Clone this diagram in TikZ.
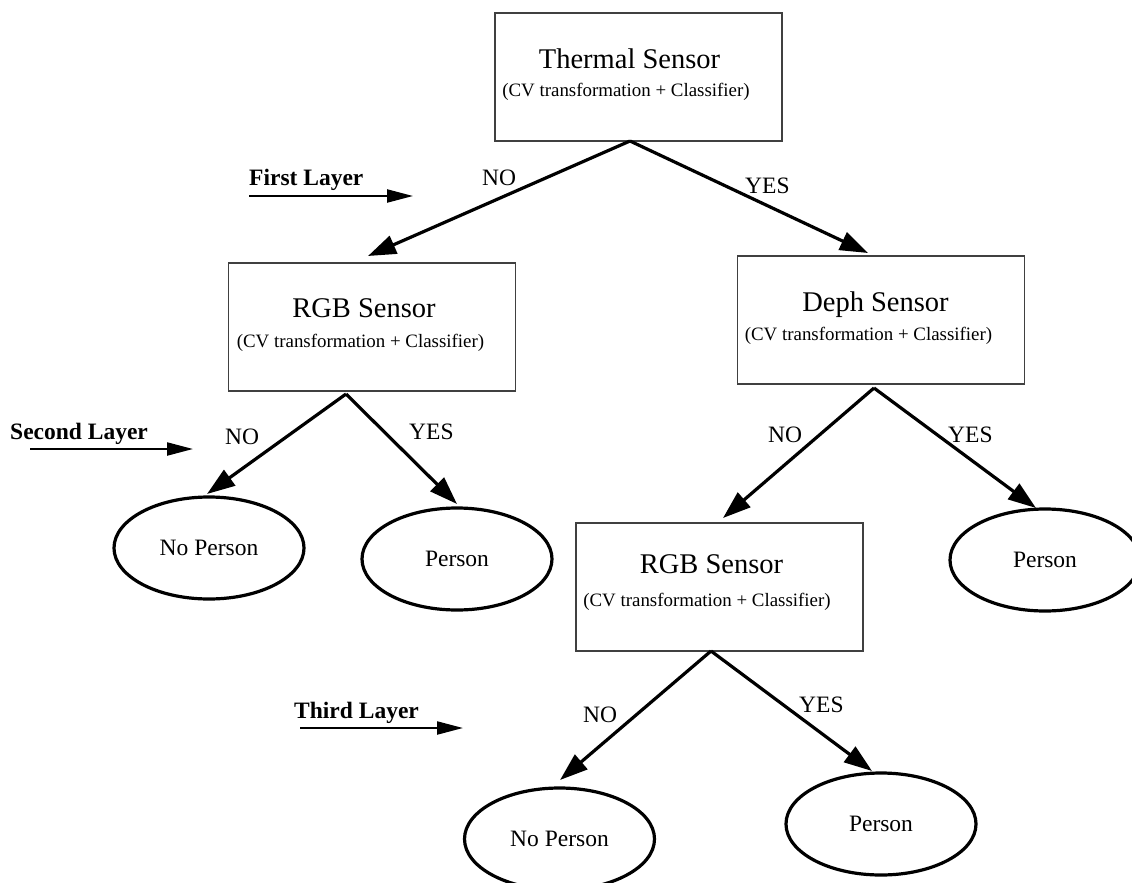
\documentclass[tikz,border=0pt]{standalone}
\usepackage{fontspec}
\setmainfont{Liberation Serif}
\usetikzlibrary{arrows.meta,shapes.geometric,calc}
\begin{document}
\begin{tikzpicture}[x=1pt,y=-1pt,
  box/.style={draw=black!75,line width=1.2pt,minimum width=287pt,minimum height=128pt,inner sep=0pt,outer sep=0pt},
  ttl/.style={font=\fontsize{28.5}{30}\selectfont,anchor=base,inner sep=0pt},
  sub/.style={font=\fontsize{18.9}{20}\selectfont,anchor=base,inner sep=0pt},
  leaf/.style={draw,ellipse,line width=3.2pt,minimum width=190pt,minimum height=102pt,inner sep=0pt,outer sep=0pt,font=\fontsize{23.5}{25}\selectfont},
  lbl/.style={font=\fontsize{23.5}{25}\selectfont,anchor=base west,inner sep=0pt},
  layer/.style={font=\bfseries\fontsize{23.5}{25}\selectfont,anchor=base west,inner sep=0pt},
  flow/.style={line width=3.2pt,-{Triangle[length=28pt,width=19pt]}},
  lay/.style={line width=2.2pt,-{Triangle[length=26pt,width=13pt]}}]
\useasboundingbox (0,0) rectangle (1132,883);

% boxes
\node[box] (therm) at (638.5,77) {};
\node[ttl] (thermT) at (629.5,68) {Thermal Sensor};
\node[sub] (thermS) at (626,96) {(CV transformation + Classifier)};

\node[box] (rgbA) at (372,327) {};
\node[ttl] (rgbAT) at (364,317) {RGB Sensor};
\node[sub] (rgbAS) at (360.5,347) {(CV transformation + Classifier)};

\node[box] (deph) at (881,320) {};
\node[ttl] (dephT) at (875.5,311) {Deph Sensor};
\node[sub] (dephS) at (868.5,340) {(CV transformation + Classifier)};

\node[box] (rgbB) at (719.5,587) {};
\node[ttl] (rgbBT) at (711.5,573) {RGB Sensor};
\node[sub] (rgbBS) at (707,606) {(CV transformation + Classifier)};

% leaves
\node[leaf] (npA) at (209,548) {No Person};
\node[leaf] (pA) at (457,559) {Person};
\node[leaf] (pB) at (1045,560) {Person};
\node[leaf] (npC) at (559.5,839) {No Person};
\node[leaf] (pC) at (881,824) {Person};

% decision arrows
\draw[flow] ($(therm.south)+(-8.5,0)$) -- ($(rgbA.north)+(-4,-7)$);
\draw[flow] ($(therm.south)+(-8.5,0)$) -- ($(deph.north)+(-13,-3)$);
\draw[flow] ($(rgbA.south)+(-26,3)$) -- ($(npA.north)+(-2,-3)$);
\draw[flow] ($(rgbA.south)+(-26,3)$) -- ($(pA.north)+(0,-4)$);
\draw[flow] ($(deph.south)+(-7,4)$) -- ($(rgbB.north)+(3.5,-5)$);
\draw[flow] ($(deph.south)+(-7,4)$) -- ($(pB.north)+(-9,-1)$);
\draw[flow] ($(rgbB.south)+(-8.5,0)$) -- ($(npC.north)+(0.5,-8)$);
\draw[flow] ($(rgbB.south)+(-8.5,0)$) -- ($(pC.north)+(-9,-2)$);

% edge labels
\node[lbl] (no1) at (482,185) {NO};
\node[lbl] (yes1) at (745,193) {YES};
\node[lbl] (no2) at (225,444) {NO};
\node[lbl] (yes2) at (409,439) {YES};
\node[lbl] (no3) at (768,442) {NO};
\node[lbl] (yes3) at (948,442) {YES};
\node[lbl] (no4) at (583,722) {NO};
\node[lbl] (yes4) at (799,712) {YES};

% layer markers
\node[layer] (L1) at (249,185) {First Layer};
\coordinate (L1a) at (249,196);
\coordinate (L1b) at (413,196);
\draw[lay] (L1a) -- (L1b);

\node[layer] (L2) at (10,439) {Second Layer};
\coordinate (L2a) at (30,449);
\coordinate (L2b) at (193,449);
\draw[lay] (L2a) -- (L2b);

\node[layer] (L3) at (294,718) {Third Layer};
\coordinate (L3a) at (300,728);
\coordinate (L3b) at (463,728);
\draw[lay] (L3a) -- (L3b);
\end{tikzpicture}
\end{document}
